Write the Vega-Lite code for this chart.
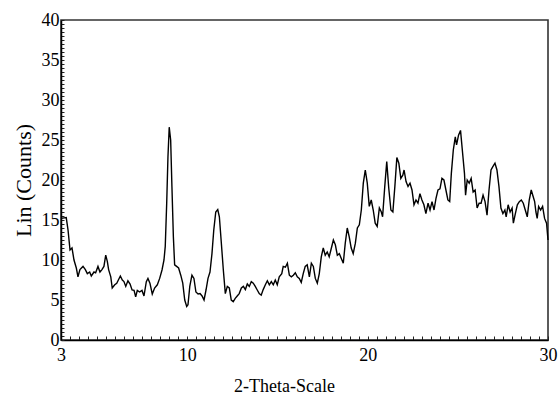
{
  "$schema": "https://vega.github.io/schema/vega-lite/v6.json",
  "width": 487,
  "height": 320,
  "autosize": {"type": "none"},
  "padding": {"left": 61, "top": 20, "right": 10, "bottom": 54},
  "background": "white",
  "config": {
    "view": {"stroke": "#333333", "strokeWidth": 1.6},
    "axis": {"grid": false, "domainColor": "black", "domainWidth": 1.5, "tickColor": "#222222", "tickWidth": 1, "labelFont": "Liberation Serif", "labelFontSize": 18, "labelColor": "black", "titleFont": "Liberation Serif", "titleFontWeight": "normal", "titleColor": "black", "labelOverlap": false, "labelBound": false, "labelFlush": false}
  },
  "data": {"values": [
    {"theta": 3.0, "counts": 15.2}, {"theta": 3.29, "counts": 15.3}, {"theta": 3.39, "counts": 13.75}, {"theta": 3.5, "counts": 11.25},
    {"theta": 3.61, "counts": 11.5}, {"theta": 3.72, "counts": 10.0}, {"theta": 3.85, "counts": 9.0}, {"theta": 3.94, "counts": 7.9},
    {"theta": 4.05, "counts": 8.8}, {"theta": 4.22, "counts": 9.2}, {"theta": 4.35, "counts": 8.8}, {"theta": 4.46, "counts": 8.3},
    {"theta": 4.59, "counts": 8.5}, {"theta": 4.68, "counts": 8.0}, {"theta": 4.83, "counts": 8.5}, {"theta": 4.92, "counts": 8.4},
    {"theta": 5.05, "counts": 9.2}, {"theta": 5.16, "counts": 8.5}, {"theta": 5.27, "counts": 8.8}, {"theta": 5.38, "counts": 9.2},
    {"theta": 5.48, "counts": 10.6}, {"theta": 5.57, "counts": 9.8}, {"theta": 5.64, "counts": 8.8}, {"theta": 5.76, "counts": 7.9},
    {"theta": 5.84, "counts": 6.5}, {"theta": 5.98, "counts": 6.9}, {"theta": 6.09, "counts": 7.1}, {"theta": 6.18, "counts": 7.5},
    {"theta": 6.29, "counts": 8.0}, {"theta": 6.4, "counts": 7.5}, {"theta": 6.49, "counts": 7.3}, {"theta": 6.59, "counts": 6.7},
    {"theta": 6.71, "counts": 7.4}, {"theta": 6.83, "counts": 7.0}, {"theta": 6.94, "counts": 6.25}, {"theta": 7.05, "counts": 6.2},
    {"theta": 7.14, "counts": 5.4}, {"theta": 7.23, "counts": 6.2}, {"theta": 7.36, "counts": 6.0}, {"theta": 7.49, "counts": 6.2},
    {"theta": 7.6, "counts": 5.5}, {"theta": 7.73, "counts": 7.3}, {"theta": 7.82, "counts": 7.7}, {"theta": 7.93, "counts": 7.1},
    {"theta": 8.06, "counts": 5.75}, {"theta": 8.19, "counts": 6.5}, {"theta": 8.34, "counts": 6.9}, {"theta": 8.47, "counts": 7.7},
    {"theta": 8.6, "counts": 8.75}, {"theta": 8.71, "counts": 10.0}, {"theta": 8.78, "counts": 11.7}, {"theta": 8.86, "counts": 17.1},
    {"theta": 8.93, "counts": 22.9}, {"theta": 9.0, "counts": 26.6}, {"theta": 9.08, "counts": 25.0}, {"theta": 9.15, "counts": 19.2},
    {"theta": 9.23, "counts": 12.9}, {"theta": 9.3, "counts": 9.4}, {"theta": 9.41, "counts": 9.2}, {"theta": 9.52, "counts": 9.0},
    {"theta": 9.64, "counts": 8.1}, {"theta": 9.75, "counts": 7.1}, {"theta": 9.86, "counts": 5.0}, {"theta": 9.97, "counts": 4.2},
    {"theta": 10.04, "counts": 4.4}, {"theta": 10.14, "counts": 6.7}, {"theta": 10.26, "counts": 8.1}, {"theta": 10.37, "counts": 7.7},
    {"theta": 10.48, "counts": 6.0}, {"theta": 10.6, "counts": 5.75}, {"theta": 10.71, "counts": 5.8}, {"theta": 10.82, "counts": 5.5},
    {"theta": 10.93, "counts": 5.0}, {"theta": 11.04, "counts": 6.25}, {"theta": 11.15, "counts": 7.7}, {"theta": 11.26, "counts": 8.5},
    {"theta": 11.37, "counts": 10.8}, {"theta": 11.47, "counts": 13.75}, {"theta": 11.58, "counts": 16.0}, {"theta": 11.69, "counts": 16.3},
    {"theta": 11.78, "counts": 15.4}, {"theta": 11.89, "counts": 12.1}, {"theta": 12.0, "counts": 8.75}, {"theta": 12.11, "counts": 5.8},
    {"theta": 12.22, "counts": 6.7}, {"theta": 12.33, "counts": 6.5}, {"theta": 12.44, "counts": 5.0}, {"theta": 12.55, "counts": 4.8},
    {"theta": 12.66, "counts": 5.2}, {"theta": 12.77, "counts": 5.5}, {"theta": 12.88, "counts": 5.8}, {"theta": 13.0, "counts": 6.5},
    {"theta": 13.11, "counts": 6.7}, {"theta": 13.22, "counts": 6.3}, {"theta": 13.33, "counts": 7.0}, {"theta": 13.44, "counts": 6.7},
    {"theta": 13.55, "counts": 7.3}, {"theta": 13.66, "counts": 7.1}, {"theta": 13.77, "counts": 6.7}, {"theta": 13.88, "counts": 6.25},
    {"theta": 13.99, "counts": 5.8}, {"theta": 14.1, "counts": 5.6}, {"theta": 14.21, "counts": 6.3}, {"theta": 14.33, "counts": 6.9},
    {"theta": 14.44, "counts": 7.4}, {"theta": 14.55, "counts": 6.9}, {"theta": 14.66, "counts": 7.3}, {"theta": 14.77, "counts": 6.9},
    {"theta": 14.88, "counts": 7.5}, {"theta": 14.99, "counts": 6.9}, {"theta": 15.1, "counts": 7.9}, {"theta": 15.24, "counts": 8.3},
    {"theta": 15.32, "counts": 9.2}, {"theta": 15.44, "counts": 9.1}, {"theta": 15.55, "counts": 9.6}, {"theta": 15.66, "counts": 8.1},
    {"theta": 15.77, "counts": 7.9}, {"theta": 15.88, "counts": 8.1}, {"theta": 15.99, "counts": 8.4}, {"theta": 16.1, "counts": 7.9},
    {"theta": 16.21, "counts": 7.7}, {"theta": 16.32, "counts": 7.2}, {"theta": 16.43, "counts": 8.3}, {"theta": 16.54, "counts": 9.2},
    {"theta": 16.65, "counts": 9.4}, {"theta": 16.77, "counts": 7.9}, {"theta": 16.88, "counts": 9.6}, {"theta": 16.99, "counts": 9.2},
    {"theta": 17.1, "counts": 7.7}, {"theta": 17.21, "counts": 7.1}, {"theta": 17.32, "counts": 8.3}, {"theta": 17.43, "counts": 10.4},
    {"theta": 17.54, "counts": 11.5}, {"theta": 17.65, "counts": 10.6}, {"theta": 17.76, "counts": 11.0}, {"theta": 17.87, "counts": 10.4},
    {"theta": 17.99, "counts": 11.5}, {"theta": 18.1, "counts": 12.5}, {"theta": 18.21, "counts": 11.9}, {"theta": 18.32, "counts": 10.6},
    {"theta": 18.43, "counts": 10.8}, {"theta": 18.54, "counts": 10.2}, {"theta": 18.65, "counts": 9.6}, {"theta": 18.76, "counts": 12.1},
    {"theta": 18.87, "counts": 14.0}, {"theta": 18.98, "counts": 12.9}, {"theta": 19.09, "counts": 11.5}, {"theta": 19.2, "counts": 10.8},
    {"theta": 19.32, "counts": 12.1}, {"theta": 19.43, "counts": 14.0}, {"theta": 19.54, "counts": 14.4}, {"theta": 19.65, "counts": 16.25},
    {"theta": 19.76, "counts": 19.6}, {"theta": 19.87, "counts": 21.25}, {"theta": 19.98, "counts": 19.6}, {"theta": 20.09, "counts": 16.7},
    {"theta": 20.2, "counts": 17.5}, {"theta": 20.31, "counts": 16.25}, {"theta": 20.42, "counts": 14.6}, {"theta": 20.53, "counts": 14.2},
    {"theta": 20.65, "counts": 16.5}, {"theta": 20.76, "counts": 16.0}, {"theta": 20.83, "counts": 15.4}, {"theta": 20.95, "counts": 19.2},
    {"theta": 21.06, "counts": 22.3}, {"theta": 21.17, "counts": 19.0}, {"theta": 21.29, "counts": 16.25}, {"theta": 21.4, "counts": 16.0},
    {"theta": 21.51, "counts": 19.2}, {"theta": 21.62, "counts": 22.8}, {"theta": 21.73, "counts": 22.1}, {"theta": 21.84, "counts": 20.2},
    {"theta": 21.95, "counts": 20.6}, {"theta": 22.02, "counts": 21.25}, {"theta": 22.13, "counts": 19.8}, {"theta": 22.24, "counts": 19.2},
    {"theta": 22.35, "counts": 19.6}, {"theta": 22.46, "counts": 18.75}, {"theta": 22.57, "counts": 16.9}, {"theta": 22.68, "counts": 17.5},
    {"theta": 22.79, "counts": 17.1}, {"theta": 22.9, "counts": 18.3}, {"theta": 23.01, "counts": 17.5}, {"theta": 23.12, "counts": 16.9},
    {"theta": 23.23, "counts": 15.8}, {"theta": 23.35, "counts": 17.1}, {"theta": 23.46, "counts": 16.25}, {"theta": 23.57, "counts": 17.3},
    {"theta": 23.68, "counts": 16.25}, {"theta": 23.79, "counts": 17.7}, {"theta": 23.9, "counts": 18.75}, {"theta": 24.01, "counts": 18.9},
    {"theta": 24.12, "counts": 20.2}, {"theta": 24.23, "counts": 20.0}, {"theta": 24.34, "counts": 18.75}, {"theta": 24.45, "counts": 17.5},
    {"theta": 24.55, "counts": 17.3}, {"theta": 24.64, "counts": 20.8}, {"theta": 24.75, "counts": 23.75}, {"theta": 24.86, "counts": 25.4},
    {"theta": 24.93, "counts": 24.4}, {"theta": 25.04, "counts": 25.6}, {"theta": 25.15, "counts": 26.2}, {"theta": 25.26, "counts": 23.5},
    {"theta": 25.37, "counts": 20.8}, {"theta": 25.43, "counts": 18.1}, {"theta": 25.52, "counts": 20.0}, {"theta": 25.63, "counts": 19.6},
    {"theta": 25.74, "counts": 20.2}, {"theta": 25.85, "counts": 18.5}, {"theta": 25.96, "counts": 18.75}, {"theta": 26.07, "counts": 16.5},
    {"theta": 26.18, "counts": 17.1}, {"theta": 26.29, "counts": 17.1}, {"theta": 26.4, "counts": 18.1}, {"theta": 26.51, "counts": 17.3},
    {"theta": 26.62, "counts": 15.6}, {"theta": 26.73, "counts": 18.75}, {"theta": 26.84, "counts": 21.25}, {"theta": 26.95, "counts": 21.7},
    {"theta": 27.06, "counts": 22.1}, {"theta": 27.17, "counts": 21.25}, {"theta": 27.28, "counts": 19.2}, {"theta": 27.39, "counts": 16.5},
    {"theta": 27.5, "counts": 15.8}, {"theta": 27.61, "counts": 16.25}, {"theta": 27.68, "counts": 15.4}, {"theta": 27.79, "counts": 16.9},
    {"theta": 27.9, "counts": 16.0}, {"theta": 28.01, "counts": 16.5}, {"theta": 28.08, "counts": 14.6}, {"theta": 28.19, "counts": 15.8},
    {"theta": 28.3, "counts": 16.9}, {"theta": 28.41, "counts": 17.3}, {"theta": 28.52, "counts": 17.5}, {"theta": 28.63, "counts": 17.1},
    {"theta": 28.74, "counts": 16.25}, {"theta": 28.85, "counts": 15.4}, {"theta": 28.96, "counts": 17.5}, {"theta": 29.07, "counts": 18.75},
    {"theta": 29.18, "counts": 17.9}, {"theta": 29.26, "counts": 17.3}, {"theta": 29.33, "counts": 16.0}, {"theta": 29.4, "counts": 15.2},
    {"theta": 29.48, "counts": 16.7}, {"theta": 29.59, "counts": 16.25}, {"theta": 29.7, "counts": 16.7}, {"theta": 29.81, "counts": 15.2},
    {"theta": 29.92, "counts": 14.6}, {"theta": 30.0, "counts": 12.5}
  ]},
  "mark": {"type": "line", "color": "black", "strokeWidth": 1.4, "interpolate": "linear"},
  "encoding": {
    "x": {
      "field": "theta", "type": "quantitative",
      "scale": {"domain": [3, 30], "nice": false, "zero": false},
      "axis": {
        "title": "2-Theta-Scale", "titleFontSize": 18, "titleX": 223, "titleY": 51, "titleBaseline": "alphabetic", "titleAnchor": null,
        "values": [3,3.5,4,4.5,5,5.5,6,6.5,7,7.5,8,8.5,9,9.5,10,10.5,11,11.5,12,12.5,13,13.5,14,14.5,15,15.5,16,16.5,17,17.5,18,18.5,19,19.5,20,20.5,21,21.5,22,22.5,23,23.5,24,24.5,25,25.5,26,26.5,27,27.5,28,28.5,29,29.5,30],
        "labelExpr": "(datum.value == 3 || datum.value == 10 || datum.value == 20 || datum.value == 30) ? datum.value : ''",
        "tickSize": -4, "labelPadding": 10
      }
    },
    "y": {
      "field": "counts", "type": "quantitative",
      "scale": {"domain": [0, 40], "nice": false},
      "axis": {
        "title": "Lin (Counts)", "titleFontSize": 22, "titleX": -31, "titleY": 160, "titleBaseline": "alphabetic", "titleAngle": -90,
        "values": [0,0.5,1,1.5,2,2.5,3,3.5,4,4.5,5,5.5,6,6.5,7,7.5,8,8.5,9,9.5,10,10.5,11,11.5,12,12.5,13,13.5,14,14.5,15,15.5,16,16.5,17,17.5,18,18.5,19,19.5,20,20.5,21,21.5,22,22.5,23,23.5,24,24.5,25,25.5,26,26.5,27,27.5,28,28.5,29,29.5,30,30.5,31,31.5,32,32.5,33,33.5,34,34.5,35,35.5,36,36.5,37,37.5,38,38.5,39,39.5,40],
        "labelExpr": "datum.value % 5 == 0 ? datum.value : ''",
        "tickSize": -3, "labelPadding": 5
      }
    }
  }
}
